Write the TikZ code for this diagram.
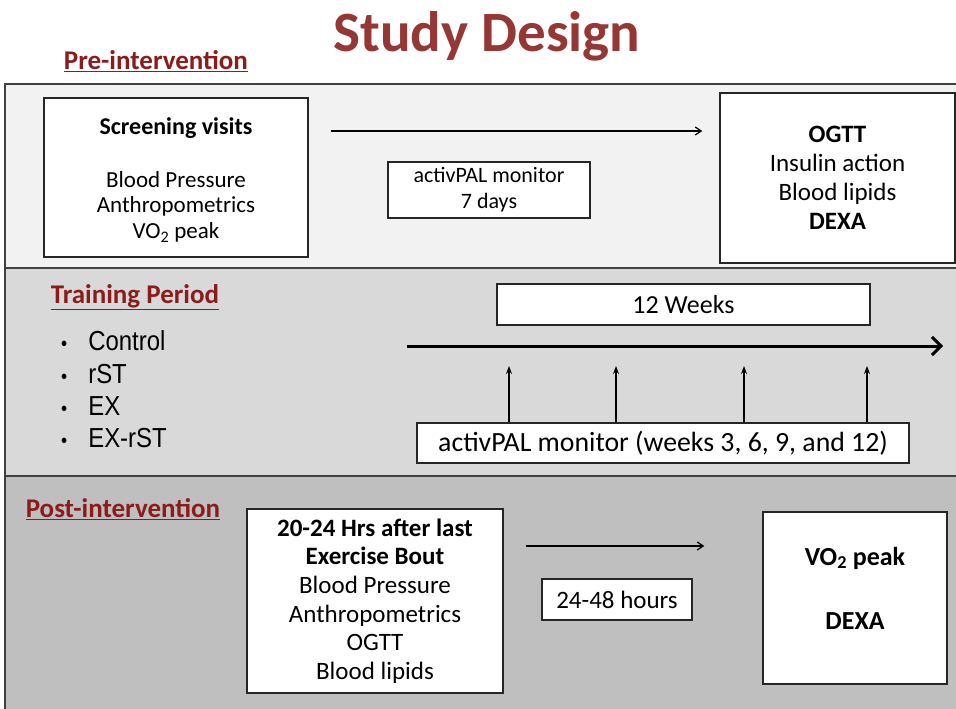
\documentclass[tikz,border=0pt]{standalone}
\usepackage{fontspec}
\setmainfont{Carlito}
\newfontfamily\arialf[FakeStretch=0.87]{Liberation Sans}
\usetikzlibrary{arrows.meta}
\definecolor{titlered}{HTML}{953735}
\definecolor{labred}{HTML}{8B1C1C}
\definecolor{pone}{HTML}{F2F2F2}
\definecolor{ptwo}{HTML}{D9D9D9}
\definecolor{pthree}{HTML}{BFBFBF}
\definecolor{edgegray}{HTML}{404040}
\tikzset{
  panel/.style={draw=edgegray, line width=1.6pt},
  wbox/.style={draw=black!85, line width=1.5pt, fill=white, inner sep=0pt, align=center},
  seclabel/.style={font=\fontsize{27}{30}\selectfont\bfseries, text=labred, inner sep=0pt},
  bullet/.style={font=\arialf\fontsize{27.5}{30}\selectfont, anchor=west, inner sep=0pt},
  thinarrow/.style={line width=1.2pt, -{Straight Barb[length=6pt,width=8pt]}},
  tickarrow/.style={line width=1.2pt, -{Stealth[length=8pt,width=6pt]}},
  bigarrow/.style={line width=3pt, -{Straight Barb[length=9pt,width=18pt,line width=3pt]}}
}
\newcommand{\bdot}{{\fontsize{20}{20}\selectfont •}}
\begin{document}
\begin{tikzpicture}[x=1pt,y=-1pt]
\useasboundingbox (0,0) rectangle (956,709);
\fill[white] (0,0) rectangle (956,709);
\begin{scope}
\clip (0,0) rectangle (956,709);
% panels
\filldraw[panel, fill=pone] (5,84) rectangle (990,268);
\filldraw[panel, fill=ptwo] (5,268) rectangle (990,476);
\filldraw[panel, fill=pthree] (5,476) rectangle (990,740);
\end{scope}

% title and section labels
\node[font=\fontsize{57}{62}\selectfont\bfseries, text=titlered, inner sep=0pt] (title) at (487,36) {Study Design};
\node[seclabel] (prelab) at (156,61) {\underline{Pre-intervention}};
\node[seclabel] (trainlab) at (135,297) {\underline{Training Period}};
\node[seclabel] (postlab) at (123,509) {\underline{Post-intervention}};

% pre-intervention
\node[wbox, minimum width=264pt, minimum height=159pt] (screen) at (176,177.5) {};
\node[align=center, inner sep=0pt, font=\fontsize{23}{25.5}\selectfont] (screentxt) at (176,180)
  {\textbf{\fontsize{24}{25}\selectfont Screening visits}\\[27pt]Blood Pressure\\Anthropometrics\\VO\textsubscript{2} peak};
\node[wbox, minimum width=202pt, minimum height=56pt, font=\fontsize{22}{26}\selectfont] (pal1) at (489,190)
  {activPAL monitor\\7 days};
\node[wbox, minimum width=235pt, minimum height=170pt, font=\fontsize{25}{29}\selectfont] (ogtt) at (837.5,178)
  {\textbf{OGTT}\\Insulin action\\Blood lipids\\\textbf{DEXA}};
\coordinate (prey) at (0,131);
\draw[thinarrow, shorten <=22pt, shorten >=17pt] (screen.east |- prey) -- (ogtt.west |- prey);

% training period
\node[bullet] (b1) at (61,341) {\bdot\hspace{21pt}Control};
\node[bullet] (b2) at (61,374) {\bdot\hspace{21pt}rST};
\node[bullet] (b3) at (61,406) {\bdot\hspace{21pt}EX};
\node[bullet] (b4) at (61,438) {\bdot\hspace{21pt}EX-rST};
\node[wbox, minimum width=373pt, minimum height=41pt, font=\fontsize{26}{28}\selectfont] (weeks) at (683.5,304.5) {12 Weeks};
\coordinate (tlstart) at (407,346);
\coordinate (tlend) at (943,346);
\draw[bigarrow] (tlstart) -- (tlend);
\node[wbox, minimum width=492pt, minimum height=40pt, font=\fontsize{27.8}{28}\selectfont] (pal2) at (663,443)
  {activPAL monitor (weeks 3, 6, 9, and 12)};
\foreach \i/\xx in {1/509,2/616,3/744,4/867}{
  \coordinate (tk\i) at (\xx,366);
  \draw[tickarrow] (pal2.north -| tk\i) -- (tk\i);
}

% post-intervention
\node[wbox, minimum width=256pt, minimum height=184pt, font=\fontsize{25}{28.6}\selectfont] (post) at (375,601)
  {\textbf{20-24 Hrs after last}\\\textbf{Exercise Bout}\\Blood Pressure\\Anthropometrics\\OGTT\\Blood lipids};
\node[wbox, minimum width=150pt, minimum height=41pt, font=\fontsize{25}{28}\selectfont] (hrs) at (617,599.5) {24-48 hours};
\node[wbox, minimum width=184pt, minimum height=172pt] (vo2) at (855,598) {};
\node[align=center, inner sep=0pt, font=\fontsize{26}{28}\selectfont\bfseries] (vo2txt) at (855,588)
  {VO\textsubscript{2} peak\\[36pt]DEXA};
\coordinate (posty) at (0,546);
\draw[thinarrow, shorten <=22pt, shorten >=58pt] (post.east |- posty) -- (vo2.west |- posty);
\end{tikzpicture}
\end{document}
